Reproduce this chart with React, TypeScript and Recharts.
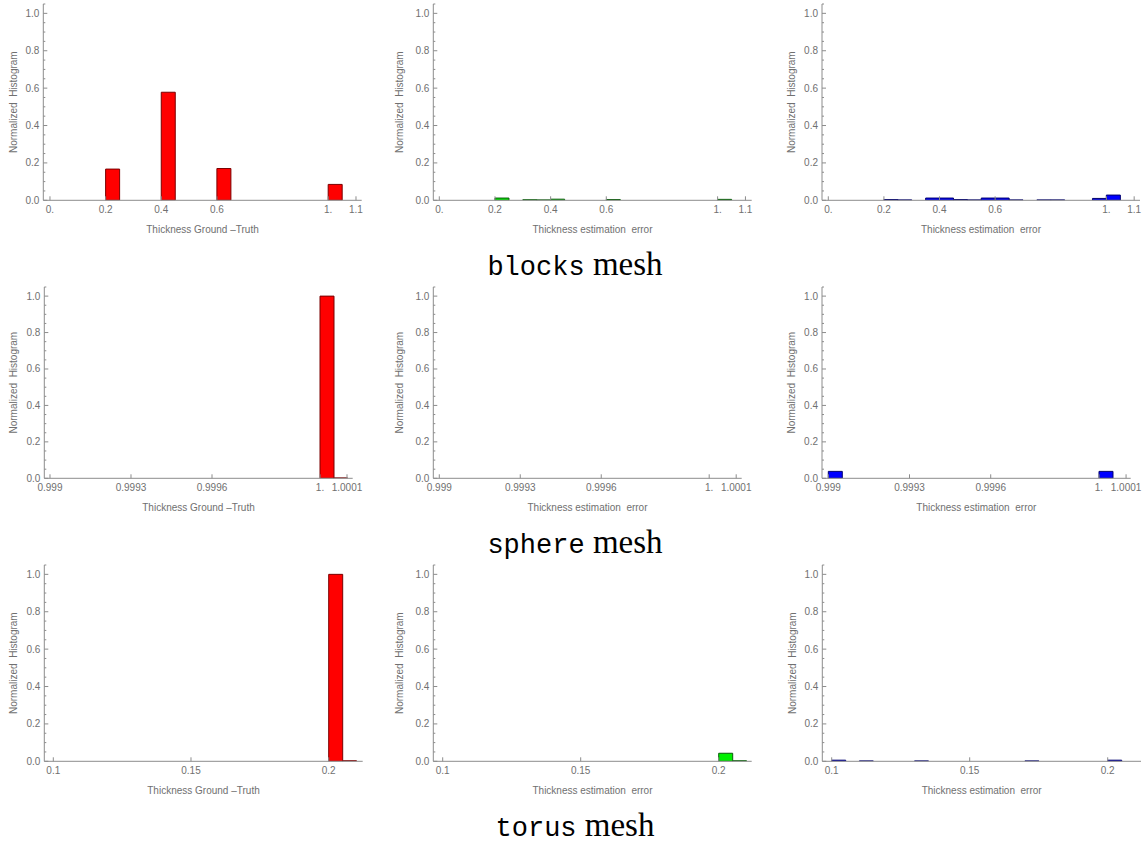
import React from 'react';
import { BarChart, Bar, XAxis, YAxis } from 'recharts';

// ---------- data ----------
// bin centres (bin width 0.05) for the "blocks" row
const blocksBins = [0.025, 0.075, 0.125, 0.175, 0.225, 0.275, 0.325, 0.375, 0.425, 0.475, 0.525, 0.575, 0.625, 0.675, 0.725, 0.775, 0.825, 0.875, 0.925, 0.975, 1.025, 1.075];
const blocksGroundTruth = [0, 0, 0, 0, 0.167, 0, 0, 0, 0.578, 0, 0, 0, 0.17, 0, 0, 0, 0, 0, 0, 0, 0.085, 0];
const blocksErrorA = [0, 0, 0, 0, 0.012, 0, 0.003, 0.002, 0.006, 0, 0, 0, 0.004, 0, 0, 0, 0, 0, 0, 0, 0.005, 0];
const blocksErrorB = [0, 0, 0, 0, 0.004, 0.002, 0, 0.012, 0.012, 0.004, 0.002, 0.012, 0.012, 0.002, 0, 0.002, 0.002, 0, 0, 0.01, 0.028, 0];

// bin centres (bin width 0.00005) for the "sphere" row
const sphereBins = [0.999025, 0.999075, 0.999125, 0.999175, 0.999225, 0.999275, 0.999325, 0.999375, 0.999425, 0.999475, 0.999525, 0.999575, 0.999625, 0.999675, 0.999725, 0.999775, 0.999825, 0.999875, 0.999925, 0.999975, 1.000025, 1.000075];
const sphereGroundTruth = [0, 0, 0, 0, 0, 0, 0, 0, 0, 0, 0, 0, 0, 0, 0, 0, 0, 0, 0, 0, 1.0, 0.002];
const sphereErrorA = [0, 0, 0, 0, 0, 0, 0, 0, 0, 0, 0, 0, 0, 0, 0, 0, 0, 0, 0, 0, 0, 0];
const sphereErrorB = [0.038, 0, 0, 0, 0, 0, 0, 0, 0, 0, 0, 0, 0, 0, 0, 0, 0, 0, 0, 0, 0.038, 0];

// bin centres (bin width 0.005) for the "torus" row
const torusBins = [0.1025, 0.1075, 0.1125, 0.1175, 0.1225, 0.1275, 0.1325, 0.1375, 0.1425, 0.1475, 0.1525, 0.1575, 0.1625, 0.1675, 0.1725, 0.1775, 0.1825, 0.1875, 0.1925, 0.1975, 0.2025, 0.2075];
const torusGroundTruth = [0, 0, 0, 0, 0, 0, 0, 0, 0, 0, 0, 0, 0, 0, 0, 0, 0, 0, 0, 0, 1.0, 0.003];
const torusErrorA = [0, 0, 0, 0, 0, 0, 0, 0, 0, 0, 0, 0, 0, 0, 0, 0, 0, 0, 0, 0, 0.043, 0.003];
const torusErrorB = [0.006, 0, 0.002, 0, 0, 0, 0.002, 0, 0, 0, 0, 0, 0, 0, 0.002, 0, 0, 0, 0, 0, 0.006, 0];

// tick values and labels
const blocksTicks = [0, 0.2, 0.4, 0.6, 1.0, 1.1];
const blocksTickLabels = ['0.', '0.2', '0.4', '0.6', '1.', '1.1'];
const sphereTicks = [0.999, 0.9993, 0.9996, 1.0, 1.0001];
const sphereTickLabels = ['0.999', '0.9993', '0.9996', '1.', '1.0001'];
const torusTicks = [0.1, 0.15, 0.2];
const torusTickLabels = ['0.1', '0.15', '0.2'];
const yTicks = [0, 0.05, 0.1, 0.15, 0.2, 0.25, 0.3, 0.35, 0.4, 0.45, 0.5, 0.55, 0.6, 0.65, 0.7, 0.75, 0.8, 0.85, 0.9, 0.95, 1.0, 1.05];

const captions = [
  { mono: 'blocks', serif: ' mesh' },
  { mono: 'sphere', serif: ' mesh' },
  { mono: 'torus', serif: ' mesh' },
];

const labelGroundTruth = 'Thickness Ground \u2013Truth';
const labelError = 'Thickness estimation  error';
const labelY = 'Normalized  Histogram';

// ---------- styles ----------
const AXIS = '#8c8c8c';
const TEXT = '#707070';
const SANS = '"Liberation Sans", Arial, sans-serif';
const RED = { fill: '#ff0000', stroke: '#7a0000' };
const GREEN = { fill: '#00f000', stroke: '#0a5a0a' };
const BLUE = { fill: '#0000ff', stroke: '#00006e' };
const AXIS_BOX = 30;

type PanelCfg = {
  chartLeft: number; chartTop: number; chartW: number; chartH: number;
  axisX: number; axisRight: number; plotTop: number; axisY: number;
  xDomain: [number, number];
  bins: number[]; values: number[];
  xTicks: number[]; xTickLabels: string[];
  color: { fill: string; stroke: string };
  xLabel: string; yLabelGap: number;
};

function Panel(p: PanelCfg) {
  const data = p.bins.map((b, i) => ({ x: b, v: p.values[i] }));
  const margin = {
    left: p.axisX - p.chartLeft - AXIS_BOX,
    top: p.plotTop - p.chartTop,
    right: p.chartLeft + p.chartW - p.axisRight,
    bottom: p.chartTop + p.chartH - p.axisY - AXIS_BOX,
  };
  const xTick = (props: any) => {
    const { x, y, payload } = props;
    let idx = 0;
    let best = Infinity;
    p.xTicks.forEach((t, i) => {
      const d = Math.abs(t - payload.value);
      if (d < best) { best = d; idx = i; }
    });
    return (
      <g>
        <line x1={x} x2={x} y1={y} y2={y - 4} stroke={AXIS} strokeWidth={1} />
        <text x={x} y={y + 13} textAnchor="middle" fontSize={10} fill={TEXT} fontFamily={SANS}>
          {p.xTickLabels[idx]}
        </text>
      </g>
    );
  };
  const yTick = (props: any) => {
    const { x, y, payload } = props;
    const v = payload.value as number;
    const major = Math.abs(v * 5 - Math.round(v * 5)) < 1e-6;
    return (
      <g>
        <line x1={x} x2={x + (major ? 4 : 2)} y1={y} y2={y} stroke={AXIS} strokeWidth={1} />
        {major && (
          <text x={x - 4} y={y + 3.5} textAnchor="end" fontSize={10} fill={TEXT} fontFamily={SANS}>
            {v.toFixed(1)}
          </text>
        )}
      </g>
    );
  };
  const xLabel = (props: any) => {
    const vb = props.viewBox || {};
    return (
      <text x={vb.x + vb.width / 2} y={vb.y + 33} textAnchor="middle" fontSize={10} fill={TEXT}
        fontFamily={SANS} style={{ whiteSpace: 'pre' }}>
        {p.xLabel}
      </text>
    );
  };
  const yLabel = (props: any) => {
    const vb = props.viewBox || {};
    const cx = vb.x + vb.width - p.yLabelGap;
    const cy = vb.y + vb.height / 2;
    return (
      <text x={cx} y={cy} transform={`rotate(-90 ${cx} ${cy})`} textAnchor="middle" dominantBaseline="central"
        fontSize={10} fill={TEXT} fontFamily={SANS} style={{ whiteSpace: 'pre' }}>
        {labelY}
      </text>
    );
  };
  return (
    <div style={{ position: 'absolute', left: p.chartLeft, top: p.chartTop }}>
      <BarChart width={p.chartW} height={p.chartH} data={data} margin={margin} barCategoryGap={0}>
        <XAxis dataKey="x" type="number" domain={p.xDomain} allowDataOverflow ticks={p.xTicks} interval={0}
          height={AXIS_BOX} tickSize={0} tickMargin={0} tickLine={false} axisLine={{ stroke: AXIS }} tick={xTick}
          label={xLabel} />
        <YAxis type="number" domain={[0, 1.05]} allowDataOverflow ticks={yTicks} interval={0}
          width={AXIS_BOX} tickSize={0} tickMargin={0} tickLine={false} axisLine={{ stroke: AXIS }} tick={yTick}
          label={yLabel} />
        <Bar dataKey="v" fill={p.color.fill} stroke={p.color.stroke} strokeWidth={1} isAnimationActive={false} />
      </BarChart>
    </div>
  );
}

const COLS = [
  { left: 0, w: 380 },
  { left: 380, w: 380 },
  { left: 760, w: 385 },
];
const ROWS = [
  { top: 0, plotTop: 4, axisY: 200.3 },
  { top: 280, plotTop: 287, axisY: 478.3 },
  { top: 560, plotTop: 565, axisY: 761.3 },
];

function base(r: number, c: number) {
  return {
    chartLeft: COLS[c].left,
    chartTop: ROWS[r].top,
    chartW: COLS[c].w,
    chartH: 250,
    plotTop: ROWS[r].plotTop,
    axisY: ROWS[r].axisY,
  };
}

export default function App() {
  const panels: PanelCfg[] = [
    // row 1 : blocks
    { ...base(0, 0), axisX: 43.3, axisRight: 361.7, xDomain: [-0.024, 1.1205], bins: blocksBins, values: blocksGroundTruth, xTicks: blocksTicks, xTickLabels: blocksTickLabels, color: RED, xLabel: labelGroundTruth, yLabelGap: 30 },
    { ...base(0, 1), axisX: 433.3, axisRight: 751.7, xDomain: [-0.0216, 1.1225], bins: blocksBins, values: blocksErrorA, xTicks: blocksTicks, xTickLabels: blocksTickLabels, color: GREEN, xLabel: labelError, yLabelGap: 34 },
    { ...base(0, 2), axisX: 822, axisRight: 1140, xDomain: [-0.0227, 1.121], bins: blocksBins, values: blocksErrorB, xTicks: blocksTicks, xTickLabels: blocksTickLabels, color: BLUE, xLabel: labelError, yLabelGap: 30 },
    // row 2 : sphere
    { ...base(1, 0), axisX: 44.3, axisRight: 352.7, xDomain: [0.99897889, 1.00012111], bins: sphereBins, values: sphereGroundTruth, xTicks: sphereTicks, xTickLabels: sphereTickLabels, color: RED, xLabel: labelGroundTruth, yLabelGap: 31 },
    { ...base(1, 1), axisX: 433.3, axisRight: 741.7, xDomain: [0.9989778, 1.0001204], bins: sphereBins, values: sphereErrorA, xTicks: sphereTicks, xTickLabels: sphereTickLabels, color: GREEN, xLabel: labelError, yLabelGap: 34 },
    { ...base(1, 2), axisX: 822, axisRight: 1130.7, xDomain: [0.99897673, 1.00011711], bins: sphereBins, values: sphereErrorB, xTicks: sphereTicks, xTickLabels: sphereTickLabels, color: BLUE, xLabel: labelError, yLabelGap: 30 },
    // row 3 : torus
    { ...base(2, 0), axisX: 44.3, axisRight: 362.7, xDomain: [0.096732, 0.212346], bins: torusBins, values: torusGroundTruth, xTicks: torusTicks, xTickLabels: torusTickLabels, color: RED, xLabel: labelGroundTruth, yLabelGap: 31 },
    { ...base(2, 1), axisX: 433.3, axisRight: 751.7, xDomain: [0.096594, 0.211957], bins: torusBins, values: torusErrorA, xTicks: torusTicks, xTickLabels: torusTickLabels, color: GREEN, xLabel: labelError, yLabelGap: 34 },
    { ...base(2, 2), axisX: 822.3, axisRight: 1141, xDomain: [0.096594, 0.212065], bins: torusBins, values: torusErrorB, xTicks: torusTicks, xTickLabels: torusTickLabels, color: BLUE, xLabel: labelError, yLabelGap: 30 },
  ];
  const captionY = [275, 552.5, 836];
  return (
    <div style={{ position: 'absolute', left: 0, top: 0, width: 1145, height: 844, background: '#ffffff', overflow: 'hidden' }}>
      <svg width={1145} height={844} style={{ position: 'absolute', left: 0, top: 0 }}>
        {captions.map((c, i) => (
          <text key={i} x={575} y={captionY[i]} textAnchor="middle" fill="#000" style={{ whiteSpace: 'pre' }}>
            <tspan fontFamily={'"Liberation Mono", monospace'} fontSize={27}>{c.mono}</tspan>
            <tspan fontFamily={'"Liberation Serif", serif'} fontSize={33}>{c.serif}</tspan>
          </text>
        ))}
      </svg>
      {panels.map((p, i) => (
        <Panel key={i} {...p} />
      ))}
    </div>
  );
}
